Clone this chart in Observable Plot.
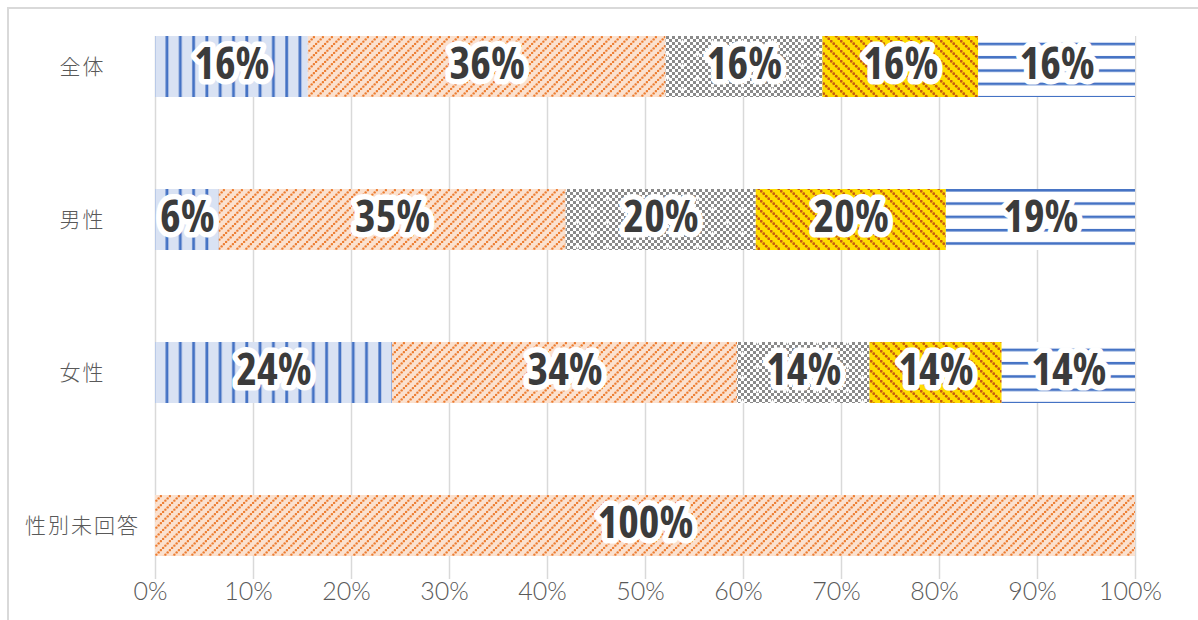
<!DOCTYPE html>
<html><head><meta charset="utf-8">
<script src="https://cdn.jsdelivr.net/npm/d3@7"></script>
<script src="https://cdn.jsdelivr.net/npm/@observablehq/plot@0.6"></script>
<style>
body{margin:0;background:#fff;}
#wrap{position:relative;width:1198px;height:620px;overflow:hidden;background:#fff;}
#border{position:absolute;left:7px;top:7px;width:1400px;height:800px;border:2px solid #d9d9d9;box-sizing:border-box;pointer-events:none;}
#chart{position:absolute;left:0;top:0;}
g[aria-label="text"] text{font-stretch:87%;}
g[aria-label="y-axis tick label"] text{letter-spacing:2px;}
</style></head><body>
<div id="wrap"><div id="chart"></div><div id="border"></div></div>
<script>
// ---- data ----
const categories = ["全体", "男性", "女性", "性別未回答"];
const seriesNames = ["選択肢1", "選択肢2", "選択肢3", "選択肢4", "選択肢5"];
const valuesAll    = [15.6, 36.5, 16.0, 15.9, 16.0];
const valuesMale   = [6.5, 35.4, 19.4, 19.4, 19.3];
const valuesFemale = [24.2, 35.2, 13.5, 13.5, 13.6];
const valuesNoAns  = [0, 100, 0, 0, 0];
const labelsAll    = ["16%", "36%", "16%", "16%", "16%"];
const labelsMale   = ["6%", "35%", "20%", "20%", "19%"];
const labelsFemale = ["24%", "34%", "14%", "14%", "14%"];
const labelsNoAns  = ["", "100%", "", "", ""];
const xTicks = [0, 10, 20, 30, 40, 50, 60, 70, 80, 90, 100];

const valueRows = [valuesAll, valuesMale, valuesFemale, valuesNoAns];
const labelRows = [labelsAll, labelsMale, labelsFemale, labelsNoAns];
const data = [];
categories.forEach((c, i) => {
  seriesNames.forEach((s, j) => {
    data.push({category: c, series: s, value: valueRows[i][j], label: labelRows[i][j]});
  });
});

const patternIds = ["url(#p1)", "url(#p2)", "url(#p3)", "url(#p4)", "url(#p5)"];

const dots = (pts, r, fill) => pts.map(([x, y]) => `<circle cx="${x}" cy="${y}" r="${r}" fill="${fill}"/>`).join("");

const defs = `
<pattern id="p1" width="13.3" height="10" patternUnits="userSpaceOnUse">
  <rect width="13.3" height="10" fill="#d9e2f3"/>
  <rect x="6" width="2.8" height="10" fill="#4472c4"/>
</pattern>
<pattern id="p2" width="9" height="9" patternUnits="userSpaceOnUse">
  <rect width="9" height="9" fill="#fbe1cf"/>
  ${dots([[1.125,7.875],[3.375,5.625],[5.625,3.375],[7.875,1.125]], 1.2, "#ed7d31")}
</pattern>
<pattern id="chk" width="6" height="6" patternUnits="userSpaceOnUse">
  <rect width="6" height="6" fill="#ffffff"/>
  <rect width="3" height="3" fill="#8a8a8a"/>
  <rect x="3" y="3" width="3" height="3" fill="#8a8a8a"/>
</pattern>
<pattern id="p3" width="30" height="24" patternUnits="userSpaceOnUse">
  <rect width="30" height="24" fill="url(#chk)"/>
  <path d="M5,6h5M7.5,3.5v5M20,18h5M22.5,15.5v5" stroke="#fff" stroke-width="1.6"/>
</pattern>
<pattern id="p4" width="10" height="10" patternUnits="userSpaceOnUse">
  <rect width="10" height="10" fill="#ffdc00"/>
  ${dots([[1.25,1.25],[3.75,3.75],[6.25,6.25],[8.75,8.75]], 1.4, "#c55a11")}
</pattern>
<pattern id="p5" width="20" height="13.3" patternUnits="userSpaceOnUse">
  <rect width="20" height="13.3" fill="#ffffff"/>
  <rect y="2.8" width="20" height="2.6" fill="#4472c4"/>
</pattern>`;

const chart = Plot.plot({
  width: 1198,
  height: 620,
  marginLeft: 155,
  marginRight: 63,
  marginTop: 36,
  marginBottom: 41,
  style: {fontFamily: "Lato, 'Noto Sans CJK JP', sans-serif", background: "transparent"},
  x: {domain: [0, 100]},
  y: {domain: categories, align: 0, paddingInner: 0.6, paddingOuter: 0.07},
  color: {type: "ordinal", domain: seriesNames, range: patternIds},
  marks: [
    Plot.gridX(xTicks, {stroke: "#d9d9d9", strokeOpacity: 1, strokeWidth: 1.5}),
    Plot.axisX(xTicks, {tickSize: 0, tickPadding: 3, tickFormat: d => d + "%", fontSize: 25, fontWeight: 300, fill: "#595959", dx: -5, label: null}),
    Plot.axisY({tickSize: 0, tickPadding: 73, textAnchor: "middle", fontSize: 21, fontWeight: 300, fill: "#595959", fontFamily: "'Noto Sans CJK JP', sans-serif", label: null}),
    Plot.barX(data, Plot.stackX({x: "value", y: "category", fill: "series"})),
    Plot.text(data, Plot.stackX({x: "value", y: "category", z: "series", text: "label",
      fontSize: 44, fontWeight: 700, fontFamily: "'Open Sans', Lato, sans-serif",
      fill: "#3b3b3b", stroke: "#ffffff", strokeWidth: 11, strokeLinejoin: "round", dy: -2}))
  ]
});
d3.select(chart).insert("defs", ":first-child").html(defs);
document.getElementById("chart").appendChild(chart);
</script>
</body></html>
